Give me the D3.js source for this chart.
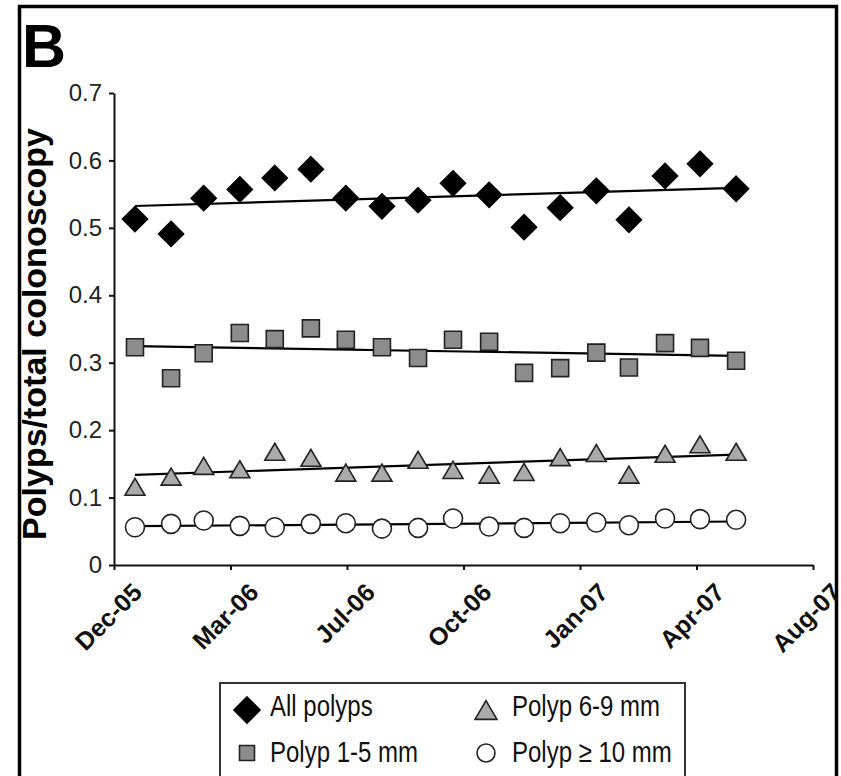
<!DOCTYPE html>
<html><head><meta charset="utf-8">
<script src="https://cdn.jsdelivr.net/npm/d3@7"></script>
<style>body{margin:0;background:#fff}svg{display:block}</style>
</head><body><svg id="chart" width="841" height="776"></svg>
<script>
// ---- data ----
const monthDates = ["2005-12-31","2006-01-31","2006-02-28","2006-03-31","2006-04-30","2006-05-31",
  "2006-06-30","2006-07-31","2006-08-31","2006-09-30","2006-10-31","2006-11-30","2006-12-31",
  "2007-01-31","2007-02-28","2007-03-31","2007-04-30","2007-05-31"];
const allPolyps   = [0.513,0.491,0.544,0.557,0.574,0.587,0.544,0.532,0.541,0.566,0.549,0.501,0.530,0.555,0.512,0.577,0.595,0.558];
const polyp1to5   = [0.323,0.277,0.314,0.344,0.335,0.351,0.334,0.323,0.307,0.334,0.331,0.285,0.292,0.315,0.293,0.329,0.322,0.303];
const polyp6to9   = [0.116,0.131,0.147,0.142,0.168,0.159,0.137,0.137,0.156,0.141,0.134,0.138,0.160,0.166,0.134,0.165,0.179,0.168];
const polyp10plus = [0.056,0.061,0.066,0.058,0.056,0.061,0.062,0.054,0.055,0.069,0.057,0.055,0.062,0.063,0.059,0.069,0.068,0.067];
const yTickValues = [0,0.1,0.2,0.3,0.4,0.5,0.6,0.7];
const xTickLabels = ["Dec-05","Mar-06","Jul-06","Oct-06","Jan-07","Apr-07","Aug-07"];
const xAxisStart = "2005-12-13";
const xTickStepDays = 100;
const seriesNames = ["All polyps","Polyp 1-5 mm","Polyp 6-9 mm","Polyp \u2265 10 mm"];

const svg = d3.select("#chart");
const parse = d3.timeParse("%Y-%m-%d");
const FONT = "'Liberation Sans', Arial, Helvetica, sans-serif";

// outer frame
svg.append("rect").attr("x",19.5).attr("y",6.5).attr("width",817).attr("height",820)
  .attr("fill","none").attr("stroke","#000").attr("stroke-width",3.5);

// panel letter
svg.append("text").attr("x",22).attr("y",67).attr("font-family",FONT).attr("font-weight","bold")
  .attr("font-size",61).attr("fill","#000").text("B");

const plot = {left:114, right:813, top:93, bottom:565};
const start = parse(xAxisStart);
const tickDates = xTickLabels.map((_, i) => d3.timeDay.offset(start, i * xTickStepDays));
const x = d3.scaleTime().domain([tickDates[0], tickDates[tickDates.length-1]]).range([plot.left, plot.right]);
const y = d3.scaleLinear().domain([0, 0.7]).range([plot.bottom, plot.top]);

// y axis
const gy = svg.append("g").attr("transform",`translate(${plot.left},0)`)
  .call(d3.axisLeft(y).tickValues(yTickValues).tickSize(5).tickSizeOuter(0).tickPadding(7)
    .tickFormat(d => d === 0 ? "0" : d3.format(".1f")(d)));
gy.selectAll("path,line").attr("stroke","#111").attr("stroke-width",2);
gy.selectAll("text").attr("font-family",FONT).attr("font-size",24).attr("fill","#222");

// x axis
const gx = svg.append("g").attr("transform",`translate(0,${plot.bottom})`)
  .call(d3.axisBottom(x).tickValues(tickDates).tickSize(5).tickSizeOuter(0)
    .tickFormat((d, i) => xTickLabels[i]));
gx.selectAll("path,line").attr("stroke","#111").attr("stroke-width",2);
gx.selectAll("text").attr("font-family",FONT).attr("font-size",25).attr("font-weight","bold")
  .attr("fill","#111").attr("x",0).attr("y",0).attr("dy",0)
  .attr("text-anchor","end").attr("transform","translate(29,29) rotate(-45)");

// y axis title
svg.append("text").attr("transform",`translate(46,${(plot.top+plot.bottom)/2+5}) rotate(-90)`)
  .attr("text-anchor","middle").attr("font-family",FONT).attr("font-weight","bold")
  .attr("font-size",34).attr("fill","#000").text("Polyps/total colonoscopy");

// symbol types
const triangleBox = { draw(ctx, size) { const w = Math.sqrt(size); const h = w * 0.85;
  ctx.moveTo(0, -h/2); ctx.lineTo(w/2, h/2); ctx.lineTo(-w/2, h/2); ctx.closePath(); } };
const diamondSq = { draw(ctx, size) { const r = Math.sqrt(size) / 2;
  ctx.moveTo(0, -r); ctx.lineTo(r, 0); ctx.lineTo(0, r); ctx.lineTo(-r, 0); ctx.closePath(); } };

const series = [
  {name:seriesNames[0], values:allPolyps, type:diamondSq, size:25*25, lsize:26*26, fill:"#000", stroke:"#000", col:0, row:0},
  {name:seriesNames[1], values:polyp1to5, type:d3.symbolSquare, size:17*17, lsize:15*15, fill:"#8c8c8c", stroke:"#222", col:0, row:1},
  {name:seriesNames[2], values:polyp6to9, type:triangleBox, size:20*20, lsize:22*22, fill:"#aaaaaa", stroke:"#222", col:1, row:0},
  {name:seriesNames[3], values:polyp10plus, type:d3.symbolCircle, size:Math.PI*9.5*9.5, lsize:Math.PI*9*9, fill:"#fff", stroke:"#222", col:1, row:1}
];

const dates = monthDates.map(parse);
series.forEach(s => {
  // linear trendline (least squares on date)
  const xs = dates.map(d => +d), ys = s.values;
  const mx = d3.mean(xs), my = d3.mean(ys);
  const b = d3.sum(xs, (v, i) => (v - mx) * (ys[i] - my)) / d3.sum(xs, v => (v - mx) ** 2);
  const a = my - b * mx;
  const ends = [dates[0], dates[dates.length-1]];
  svg.append("path").datum(ends)
    .attr("d", d3.line().x(d => x(d)).y(d => y(a + b * (+d))))
    .attr("fill","none").attr("stroke","#000").attr("stroke-width",2.2);
});
series.forEach(s => {
  svg.append("g").selectAll("path").data(s.values).join("path")
    .attr("transform",(v, i) => `translate(${x(dates[i])},${y(v)})`)
    .attr("d", d3.symbol().type(s.type).size(s.size)())
    .attr("fill", s.fill).attr("stroke", s.stroke).attr("stroke-width",1.6);
});

// legend
svg.append("rect").attr("x",220).attr("y",683).attr("width",465).attr("height",140)
  .attr("fill","#fff").attr("stroke","#333").attr("stroke-width",2);
const lg = svg.append("g");
series.forEach(s => {
  const mx = s.col === 0 ? 247 : 486;
  const my = s.row === 0 ? 710 : 753;
  lg.append("path").attr("transform",`translate(${mx},${my})`)
    .attr("d", d3.symbol().type(s.type).size(s.lsize)())
    .attr("fill", s.fill).attr("stroke", s.stroke).attr("stroke-width",1.6);
  lg.append("text").attr("transform",`translate(${s.col === 0 ? 270 : 512},${s.row === 0 ? 716 : 762}) scale(0.8,1)`)
    .attr("font-family",FONT).attr("font-size",30).attr("fill","#111").text(s.name);
});
</script></body></html>
